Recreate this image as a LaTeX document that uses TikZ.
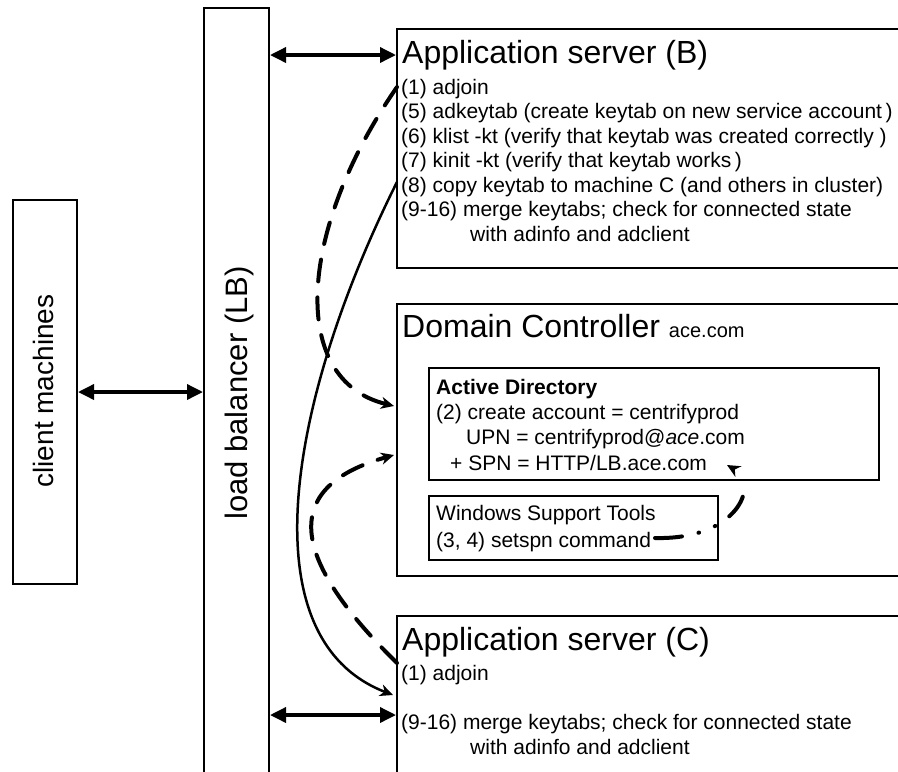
\documentclass[tikz,border=0pt]{standalone}
\usepackage{fontspec}
\setmainfont{Liberation Sans}
\usetikzlibrary{arrows.meta}
\begin{document}
\begin{tikzpicture}[x=1pt,y=-1pt,
  box/.style={draw, line width=2pt, inner sep=0pt, anchor=north west},
  innerbox/.style={draw, line width=1.6pt, inner sep=0pt, anchor=north west},
  txt/.style={inner sep=0pt, anchor=base west, font=\fontsize{21}{25}\selectfont},
  ttl/.style={inner sep=0pt, anchor=base west, font=\fontsize{32}{38}\selectfont},
  biarrow/.style={line width=3.5pt, {Triangle[length=16pt,width=15pt]}-{Triangle[length=16pt,width=15pt]}},
  curvetip/.style={-{Stealth[length=13pt,width=12pt,inset=4pt]}},
  dashcurve/.style={line width=4pt, line cap=round, dash pattern=on 22pt off 16pt, curvetip},
  solidcurve/.style={line width=2.5pt, curvetip}]
\useasboundingbox (0,0) rectangle (898,772);
\clip (0,0) rectangle (898,772);

% boxes
\node[box, minimum width=64pt, minimum height=384pt] (client) at (12,199) {};
\node[box, minimum width=65pt, minimum height=800pt] (lb) at (203,7) {};
\node[box, minimum width=540pt, minimum height=239pt] (B) at (396,28) {};
\node[box, minimum width=540pt, minimum height=272pt] (DC) at (396,303) {};
\node[innerbox, minimum width=450pt, minimum height=112pt] (AD) at (428,367) {};
\node[innerbox, minimum width=289pt, minimum height=64pt] (WST) at (428,495) {};
\node[box, minimum width=540pt, minimum height=250pt] (C) at (396,615) {};

% vertical labels
\node[rotate=90, anchor=base, inner sep=0pt, font=\fontsize{28}{30}\selectfont] (clientlbl) at (53,391) {client machines};
\node[rotate=90, anchor=base, inner sep=0pt, font=\fontsize{31}{34}\selectfont] (lblbl) at (247,393) {load balancer (LB)};

% application server B
\node[ttl] (Bt) at (402,63) {Application server (B)};
\node[txt] (B1) at (401,94) {(1) adjoin};
\node[txt] (B5) at (401,118.5) {(5) adkeytab (create keytab on new service account\,)};
\node[txt] (B6) at (401,143) {(6) klist -kt (verify that keytab was created correctly )};
\node[txt] (B7) at (401,167.5) {(7) kinit -kt (verify that keytab works\,)};
\node[txt] (B8) at (401,192) {(8) copy keytab to machine C (and others in cluster)};
\node[txt] (B9) at (401,216.5) {(9-16) merge keytabs; check for connected state};
\node[txt] (B10) at (470,241) {with adinfo and adclient};

% domain controller
\node[ttl] (DCt) at (402,337) {Domain Controller \fontsize{20}{24}\selectfont ace.com};
\node[txt] (AD0) at (436,394) {\bfseries Active Directory};
\node[txt] (AD1) at (436,419.5) {(2) create account = centrifyprod};
\node[txt] (AD2) at (466,444.5) {UPN = centrifyprod@\textit{ace}.com};
\node[txt] (AD3) at (450,470) {+ SPN = HTTP/LB.ace.com};
\node[txt] (W1) at (436,520) {Windows Support Tools};
\node[txt] (W2) at (436,547) {(3, 4) setspn command};

% application server C
\node[ttl] (Ct) at (402,650) {Application server (C)};
\node[txt] (C1) at (401,680) {(1) adjoin};
\node[txt] (C9) at (401,729) {(9-16) merge keytabs; check for connected state};
\node[txt] (C10) at (470,754) {with adinfo and adclient};

% horizontal double arrows
\coordinate (yB) at (0,55);
\coordinate (yC) at (0,715);
\draw[biarrow] (client.east) -- (client.east -| lb.west);
\draw[biarrow] (lb.east |- yB) -- (B.west |- yB);
\draw[biarrow] (lb.east |- yC) -- (C.west |- yC);

% curved connectors
\coordinate (bs1) at (397,87);
\coordinate (bs8) at (397,182);
\coordinate (dce1) at (394,406);
\coordinate (dce2) at (394,455);
\coordinate (cs0) at (397,663);
\coordinate (ce1) at (393,695);
\coordinate (sp0) at (655,538);
\coordinate (sp1) at (727,465);

\draw[dashcurve] (bs1) .. controls (298,230) and (288,380) .. (dce1);
\draw[solidcurve] (bs8) .. controls (290,396) and (245,638) .. (ce1);
\draw[dashcurve] (cs0) .. controls (285,553) and (284,486) .. (dce2);
\draw[line width=4pt, line cap=round, curvetip,
  dash pattern=on 27pt off 17pt on 0.6pt off 17pt on 0.6pt off 17pt on 24pt off 60pt]
  (sp0) .. controls (738,540) and (760,484) .. (sp1);
\end{tikzpicture}
\end{document}
